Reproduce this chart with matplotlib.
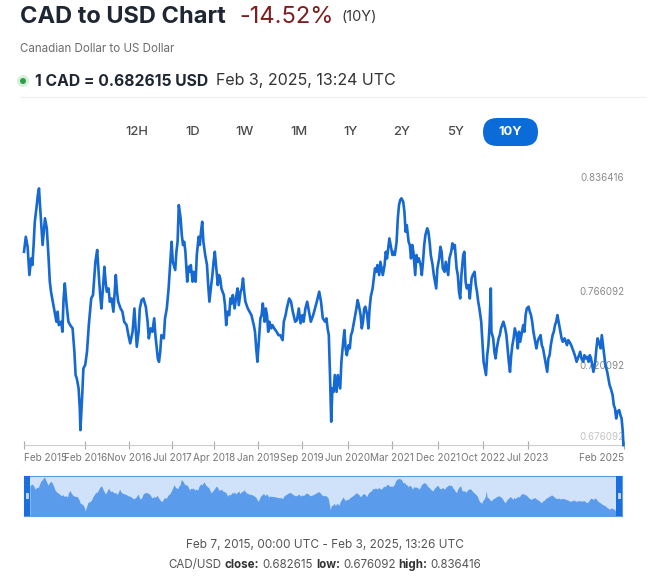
import numpy as np
import matplotlib
matplotlib.use("Agg")
import matplotlib.pyplot as plt
from matplotlib.patches import FancyBboxPatch, Rectangle, Circle
from matplotlib.transforms import offset_copy

plt.rcParams['font.family'] = ['Inter', 'DejaVu Sans']

# CAD/USD rate (decimal year, rate)
years = [2015.10, 2015.13, 2015.16, 2015.19, 2015.22, 2015.24, 2015.26, 2015.28, 2015.31, 2015.33,
         2015.35, 2015.37, 2015.41, 2015.43, 2015.45, 2015.48, 2015.51, 2015.53, 2015.55, 2015.57,
         2015.61, 2015.64, 2015.66, 2015.68, 2015.72, 2015.74, 2015.76, 2015.78, 2015.81, 2015.84,
         2015.87, 2015.91, 2015.94, 2015.96, 2015.98, 2016.01, 2016.03, 2016.04, 2016.07, 2016.09,
         2016.12, 2016.15, 2016.18, 2016.22, 2016.25, 2016.27, 2016.29, 2016.32, 2016.35, 2016.37,
         2016.39, 2016.42, 2016.44, 2016.46, 2016.48, 2016.51, 2016.53, 2016.56, 2016.59, 2016.63,
         2016.65, 2016.67, 2016.71, 2016.74, 2016.77, 2016.81, 2016.84, 2016.87, 2016.91, 2016.94,
         2016.96, 2016.98, 2017.01, 2017.03, 2017.06, 2017.09, 2017.13, 2017.16, 2017.18, 2017.21,
         2017.24, 2017.27, 2017.29, 2017.33, 2017.35, 2017.37, 2017.39, 2017.43, 2017.45, 2017.48,
         2017.51, 2017.53, 2017.56, 2017.58, 2017.62, 2017.64, 2017.66, 2017.68, 2017.71, 2017.73,
         2017.75, 2017.77, 2017.79, 2017.82, 2017.84, 2017.86, 2017.88, 2017.91, 2017.93, 2017.96,
         2017.98, 2018.01, 2018.03, 2018.05, 2018.07, 2018.09, 2018.12, 2018.15, 2018.17, 2018.19,
         2018.22, 2018.24, 2018.26, 2018.28, 2018.31, 2018.33, 2018.35, 2018.37, 2018.39, 2018.43,
         2018.45, 2018.47, 2018.49, 2018.52, 2018.54, 2018.56, 2018.58, 2018.61, 2018.64, 2018.66,
         2018.68, 2018.71, 2018.73, 2018.75, 2018.77, 2018.79, 2018.83, 2018.86, 2018.89, 2018.93,
         2018.95, 2018.97, 2018.99, 2019.02, 2019.04, 2019.06, 2019.08, 2019.11, 2019.13, 2019.15,
         2019.17, 2019.19, 2019.22, 2019.24, 2019.27, 2019.31, 2019.34, 2019.37, 2019.41, 2019.43,
         2019.46, 2019.48, 2019.52, 2019.55, 2019.58, 2019.62, 2019.65, 2019.68, 2019.71, 2019.74,
         2019.76, 2019.79, 2019.82, 2019.85, 2019.88, 2019.92, 2019.95, 2019.98, 2020.02, 2020.05,
         2020.08, 2020.12, 2020.14, 2020.16, 2020.18, 2020.20, 2020.22, 2020.24, 2020.26, 2020.28,
         2020.31, 2020.33, 2020.35, 2020.37, 2020.39, 2020.42, 2020.44, 2020.46, 2020.48, 2020.51,
         2020.53, 2020.55, 2020.57, 2020.61, 2020.64, 2020.66, 2020.68, 2020.71, 2020.73, 2020.75,
         2020.77, 2020.79, 2020.82, 2020.84, 2020.86, 2020.88, 2020.91, 2020.93, 2020.95, 2020.97,
         2020.99, 2021.02, 2021.04, 2021.06, 2021.08, 2021.11, 2021.13, 2021.15, 2021.17, 2021.19,
         2021.22, 2021.24, 2021.26, 2021.28, 2021.31, 2021.33, 2021.35, 2021.37, 2021.39, 2021.42,
         2021.44, 2021.46, 2021.48, 2021.51, 2021.53, 2021.55, 2021.57, 2021.59, 2021.62, 2021.64,
         2021.66, 2021.68, 2021.71, 2021.73, 2021.75, 2021.77, 2021.79, 2021.82, 2021.84, 2021.86,
         2021.88, 2021.91, 2021.93, 2021.95, 2021.97, 2021.99, 2022.02, 2022.04, 2022.06, 2022.08,
         2022.11, 2022.13, 2022.15, 2022.17, 2022.19, 2022.22, 2022.24, 2022.26, 2022.28, 2022.31,
         2022.33, 2022.35, 2022.37, 2022.39, 2022.42, 2022.44, 2022.46, 2022.48, 2022.51, 2022.53,
         2022.56, 2022.58, 2022.61, 2022.63, 2022.65, 2022.67, 2022.69, 2022.72, 2022.74, 2022.76,
         2022.78, 2022.80, 2022.82, 2022.84, 2022.86, 2022.88, 2022.89, 2022.92, 2022.94, 2022.96,
         2022.98, 2023.01, 2023.03, 2023.05, 2023.07, 2023.09, 2023.12, 2023.14, 2023.16, 2023.18,
         2023.20, 2023.22, 2023.24, 2023.26, 2023.28, 2023.31, 2023.33, 2023.35, 2023.37, 2023.39,
         2023.42, 2023.44, 2023.46, 2023.48, 2023.51, 2023.53, 2023.55, 2023.57, 2023.59, 2023.62,
         2023.64, 2023.66, 2023.68, 2023.71, 2023.73, 2023.75, 2023.77, 2023.79, 2023.82, 2023.84,
         2023.86, 2023.88, 2023.91, 2023.93, 2023.95, 2023.97, 2023.99, 2024.02, 2024.04, 2024.06,
         2024.08, 2024.11, 2024.13, 2024.15, 2024.17, 2024.19, 2024.22, 2024.24, 2024.26, 2024.28,
         2024.31, 2024.33, 2024.35, 2024.37, 2024.39, 2024.42, 2024.44, 2024.46, 2024.48, 2024.51,
         2024.53, 2024.55, 2024.57, 2024.59, 2024.62, 2024.64, 2024.66, 2024.68, 2024.71, 2024.73,
         2024.75, 2024.77, 2024.79, 2024.82, 2024.84, 2024.86, 2024.88, 2024.91, 2024.93, 2024.95,
         2024.97, 2024.99, 2025.02, 2025.04, 2025.06, 2025.08, 2025.09]
rates = [0.7957, 0.8050, 0.7988, 0.7813, 0.7916, 0.7875, 0.7999, 0.8143, 0.8236, 0.8308,
         0.8349, 0.8226, 0.7999, 0.8081, 0.8164, 0.8102, 0.7916, 0.7772, 0.7710, 0.7668,
         0.7586, 0.7524, 0.7586, 0.7503, 0.7524, 0.7462, 0.7668, 0.7761, 0.7627, 0.7524,
         0.7503, 0.7483, 0.7338, 0.7194, 0.7173, 0.7111, 0.6987, 0.6853, 0.7070, 0.7235,
         0.7256, 0.7338, 0.7503, 0.7668, 0.7689, 0.7792, 0.7895, 0.7968, 0.7792, 0.7689,
         0.7606, 0.7751, 0.7864, 0.7772, 0.7710, 0.7730, 0.7648, 0.7668, 0.7586, 0.7813,
         0.7710, 0.7648, 0.7606, 0.7586, 0.7524, 0.7503, 0.7441, 0.7390, 0.7462, 0.7606,
         0.7483, 0.7369, 0.7462, 0.7606, 0.7658, 0.7668, 0.7617, 0.7524, 0.7421, 0.7483,
         0.7462, 0.7545, 0.7441, 0.7297, 0.7276, 0.7338, 0.7441, 0.7421, 0.7545, 0.7606,
         0.7730, 0.7850, 0.8019, 0.7895, 0.7844, 0.7957, 0.8019, 0.8246, 0.8164, 0.8060,
         0.7999, 0.8019, 0.7957, 0.7772, 0.7864, 0.7833, 0.7875, 0.7772, 0.7833, 0.7772,
         0.7937, 0.8050, 0.7999, 0.8081, 0.8143, 0.8019, 0.7937, 0.7875, 0.7751, 0.7648,
         0.7751, 0.7813, 0.7895, 0.7957, 0.7833, 0.7751, 0.7813, 0.7792, 0.7730, 0.7689,
         0.7627, 0.7503, 0.7586, 0.7565, 0.7668, 0.7637, 0.7689, 0.7606, 0.7689, 0.7730,
         0.7627, 0.7710, 0.7730, 0.7792, 0.7710, 0.7648, 0.7606, 0.7586, 0.7565, 0.7503,
         0.7462, 0.7359, 0.7276, 0.7441, 0.7545, 0.7565, 0.7637, 0.7524, 0.7606, 0.7565,
         0.7462, 0.7524, 0.7483, 0.7503, 0.7483, 0.7462, 0.7441, 0.7441, 0.7410, 0.7524,
         0.7565, 0.7606, 0.7668, 0.7648, 0.7586, 0.7524, 0.7534, 0.7606, 0.7514, 0.7565,
         0.7524, 0.7606, 0.7648, 0.7586, 0.7524, 0.7565, 0.7606, 0.7648, 0.7710, 0.7648,
         0.7545, 0.7524, 0.7545, 0.7483, 0.7441, 0.7194, 0.6905, 0.7111, 0.7090, 0.7194,
         0.7090, 0.7194, 0.7152, 0.7111, 0.7276, 0.7400, 0.7472, 0.7359, 0.7317, 0.7379,
         0.7359, 0.7441, 0.7462, 0.7545, 0.7606, 0.7658, 0.7627, 0.7565, 0.7483, 0.7524,
         0.7606, 0.7617, 0.7565, 0.7483, 0.7606, 0.7679, 0.7730, 0.7792, 0.7854, 0.7833,
         0.7875, 0.7813, 0.7895, 0.7854, 0.7813, 0.7875, 0.7957, 0.7916, 0.7978, 0.8040,
         0.7978, 0.7937, 0.7957, 0.7937, 0.8019, 0.8164, 0.8246, 0.8277, 0.8288, 0.8267,
         0.8205, 0.8081, 0.8122, 0.8019, 0.7999, 0.7916, 0.7999, 0.7957, 0.7813, 0.7937,
         0.7895, 0.7916, 0.7875, 0.7813, 0.7895, 0.7999, 0.8060, 0.8102, 0.8081, 0.8019,
         0.7937, 0.7875, 0.7813, 0.7772, 0.7730, 0.7854, 0.7916, 0.7988, 0.7957, 0.7854,
         0.7833, 0.7895, 0.7854, 0.7813, 0.7916, 0.7957, 0.8009, 0.7978, 0.7999, 0.7854,
         0.7813, 0.7710, 0.7668, 0.7813, 0.7937, 0.7957, 0.7772, 0.7730, 0.7751, 0.7668,
         0.7792, 0.7813, 0.7833, 0.7751, 0.7710, 0.7648, 0.7606, 0.7524, 0.7400, 0.7276,
         0.7235, 0.7194, 0.7317, 0.7379, 0.7503, 0.7730, 0.7462, 0.7421, 0.7338, 0.7297,
         0.7359, 0.7421, 0.7441, 0.7483, 0.7503, 0.7524, 0.7483, 0.7441, 0.7359, 0.7276,
         0.7214, 0.7317, 0.7379, 0.7421, 0.7483, 0.7441, 0.7359, 0.7462, 0.7400, 0.7441,
         0.7503, 0.7462, 0.7565, 0.7606, 0.7617, 0.7586, 0.7565, 0.7524, 0.7462, 0.7400,
         0.7359, 0.7400, 0.7421, 0.7441, 0.7379, 0.7359, 0.7317, 0.7276, 0.7214, 0.7297,
         0.7317, 0.7379, 0.7441, 0.7462, 0.7503, 0.7524, 0.7565, 0.7503, 0.7462, 0.7421,
         0.7400, 0.7421, 0.7400, 0.7379, 0.7410, 0.7400, 0.7379, 0.7359, 0.7338, 0.7317,
         0.7276, 0.7297, 0.7317, 0.7338, 0.7297, 0.7276, 0.7317, 0.7297, 0.7307, 0.7276,
         0.7317, 0.7297, 0.7256, 0.7214, 0.7276, 0.7359, 0.7421, 0.7400, 0.7359, 0.7441,
         0.7379, 0.7317, 0.7256, 0.7214, 0.7173, 0.7132, 0.7111, 0.7070, 0.7008, 0.6987,
         0.6925, 0.6967, 0.6977, 0.6946, 0.6925, 0.6843, 0.6760]

tick_years = [2015.10, 2016.12, 2016.85, 2017.57, 2018.27, 2019.00, 2019.73,
              2020.50, 2021.23, 2022.00, 2022.75, 2023.50, 2025.10]
tick_labels = ["Feb 2015", "Feb 2016", "Nov 2016", "Jul 2017", "Apr 2018", "Jan 2019", "Sep 2019",
               "Jun 2020", "Mar 2021", "Dec 2021", "Oct 2022", "Jul 2023", "Feb 2025"]
level_values = [0.836416, 0.766092, 0.720092, 0.676092]
ranges = ["12H", "1D", "1W", "1M", "1Y", "2Y", "5Y", "10Y"]
range_x = [137, 193, 245, 299, 350, 402, 455, 510]

W, H = 660, 583
fig = plt.figure(figsize=(W / 100, H / 100), dpi=100)

# overlay in pixel coordinates for header / footer
bg = fig.add_axes([0, 0, 1, 1])
bg.set_xlim(0, W)
bg.set_ylim(H, 0)
bg.axis("off")
renderer = fig.canvas.get_renderer()


def row(pieces, x0, y, align="left"):
    texts = []
    for s, kw, gap in pieces:
        t = bg.text(0, y, s, va="center", ha="left", **kw)
        texts.append((t, gap))
    widths = [t.get_window_extent(renderer).width for t, _ in texts]
    total = sum(widths) + sum(g for _, g in texts[:-1])
    x = x0 - total / 2 if align == "center" else x0
    for (t, gap), w in zip(texts, widths):
        t.set_x(x)
        x += w + gap


row([("CAD to USD Chart", dict(fontsize=17, fontweight="bold", color="#1f2633"), 14),
     ("-14.52%", dict(fontsize=17, color="#7d1d1d"), 7),
     ("(10Y)", dict(fontsize=10.5, color="#3a3a3a"), 0)], 20, 17)
bg.text(20, 49, "Canadian Dollar to US Dollar", fontsize=8.3, color="#6b6b6b", va="center")
bg.add_patch(Circle((23, 81), 6, color="#d8efdd", lw=0))
bg.add_patch(Circle((23, 81), 3, color="#2f9e48", lw=0))
row([("1 CAD = 0.682615 USD", dict(fontsize=11.3, fontweight="bold", color="#1f2633"), 8),
     ("Feb 3, 2025, 13:24 UTC", dict(fontsize=11.5, color="#333333"), 0)], 35, 81)
bg.plot([20, 645], [97, 97], color="#f0f0f0", lw=1)

bg.add_patch(FancyBboxPatch((483, 118), 55, 28, boxstyle="round,pad=0,rounding_size=14",
                            color="#0a6bd9", lw=0))
for lab, x in zip(ranges, range_x):
    col = "white" if lab == "10Y" else "#4a4a4a"
    bg.text(x, 132, lab, ha="center", va="center", fontsize=9.3,
            fontweight="bold" if lab == "10Y" else "medium", color=col)

# main chart
ax = fig.add_axes([24 / W, 1 - 445 / H, 600 / W, 259 / H])
ax.set_facecolor("none")
ax.plot(years, rates, color="#1668d2", lw=1.9, clip_on=False, zorder=3, solid_joinstyle="round")
ax.set_xlim(2015.1, 2025.1)
ax.set_ylim(0.676092, 0.836416)
for s in ["top", "right", "left"]:
    ax.spines[s].set_visible(False)
ax.spines["bottom"].set_color("#cccccc")
ax.set_yticks([])
ax.set_xticks(tick_years, tick_labels)
ax.tick_params(axis="x", labelsize=7.2, labelcolor="#777777", color="#aaaaaa",
               length=6, direction="inout", pad=3)
labs = ax.get_xticklabels()
labs[0].set_ha("left")
labs[-1].set_ha("right")

lvl_tr = offset_copy(ax.get_yaxis_transform(), fig=fig, y=8, units="dots")
for v in level_values:
    c = "#c4c4c4" if v == level_values[-1] else "#8a8a8a"
    ax.text(1.0, v, "%.6f" % v, transform=lvl_tr, ha="right", va="center",
            fontsize=7, color=c, zorder=1)

# navigator
nav = fig.add_axes([24 / W, 1 - 516 / H, 598 / W, 40 / H])
nav.set_facecolor("#cfe2fa")
nav.fill_between(years, rates, 0.6, color="#5a9bec", lw=0)
nav.set_xlim(2015.0, 2025.19)
nav.set_ylim(0.663, 0.840)
nav.set_xticks([])
nav.set_yticks([])
for s in nav.spines.values():
    s.set_color("#5d9be6")
    s.set_linewidth(0.8)
hw = 6 / 598
nav.add_patch(Rectangle((0, 0), hw, 1, transform=nav.transAxes, color="#1a6fdc", lw=0, zorder=5))
nav.add_patch(Rectangle((1 - hw, 0), hw, 1, transform=nav.transAxes, color="#1a6fdc", lw=0, zorder=5))
nav.add_patch(Rectangle((1.5 / 598, 0.42), 3 / 598, 0.16, transform=nav.transAxes,
                        color="#b9d3f5", lw=0, zorder=6))
nav.add_patch(Rectangle((1 - 4.5 / 598, 0.42), 3 / 598, 0.16, transform=nav.transAxes,
                        color="#b9d3f5", lw=0, zorder=6))

# footer
bg.text(325, 545, "Feb 7, 2015, 00:00 UTC - Feb 3, 2025, 13:26 UTC", ha="center", va="center",
        fontsize=8.5, color="#555555")
reg = dict(fontsize=8.3, color="#555555")
bold = dict(fontsize=8.3, color="#333333", fontweight="bold")
row([("CAD/USD", reg, 3), ("close:", bold, 3), ("0.682615", reg, 3), ("low:", bold, 3),
     ("0.676092", reg, 3), ("high:", bold, 3), ("0.836416", reg, 0)], 325, 565, align="center")

fig.savefig("out.png", dpi=100)
